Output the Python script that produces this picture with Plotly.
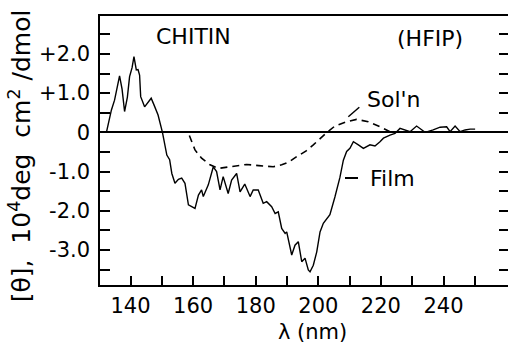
import plotly.graph_objects as go

# Film (solid) CD spectrum
film_x = [132.3, 133.9, 134.9, 136.5, 137.3, 138.1, 139.0, 139.7, 140.5, 141.1, 141.85, 142.4, 142.9,
          143.25, 144.5, 145.5, 146.6, 147.5, 148.8, 150.2, 151.6, 152.5, 153.2, 154.2, 155.3, 156.35,
          157.4, 158.5, 159.5, 160.6, 161.7, 162.7, 163.25, 164.85, 166.45, 167.5, 168.6, 169.6, 171.2,
          172.3, 173.9, 175.0, 176.5, 178.2, 179.2, 180.8, 182.4, 183.5, 185.1, 186.2, 187.2, 188.3,
          189.4, 189.9, 191.5, 192.55, 193.6, 194.7, 195.75, 196.8, 197.35, 198.4, 199.5, 200.55,
          201.6, 203.7, 205.3, 206.9, 208.0, 209.05, 210.1, 211.2, 212.8, 214.4, 216.5, 218.1, 219.7,
          220.8, 222.9, 224.5, 226.1, 227.7, 229.3, 231.4, 233.0, 234.1, 236.7, 238.9, 241.0, 242.1,
          243.7, 245.3, 246.9, 248.5, 250.1]
film_y = [0.0, 0.57, 0.82, 1.44, 1.1, 0.53, 0.9, 1.42, 1.65, 1.93, 1.59, 1.6, 1.46,
          0.91, 0.65, 0.75, 0.87, 0.7, 0.44, 0.0, -0.58, -0.7, -1.05, -1.3, -1.2, -1.17,
          -1.3, -1.85, -1.9, -1.94, -1.6, -1.47, -1.64, -1.34, -0.88, -1.0, -1.47, -1.13, -1.56,
          -1.22, -1.05, -1.52, -1.32, -1.64, -1.47, -1.47, -1.81, -1.77, -1.9, -2.07, -2.03, -2.45,
          -2.58, -2.54, -3.13, -2.88, -2.79, -3.30, -3.21, -3.51, -3.56, -3.39, -3.05, -2.54,
          -2.32, -2.1, -1.65, -1.15, -0.71, -0.49, -0.41, -0.24, -0.32, -0.41, -0.32, -0.35, -0.24,
          -0.15, -0.07, -0.03, 0.10, 0.06, 0.015, 0.16, 0.06, 0.0, 0.06, 0.13, 0.14, 0.015,
          0.16, 0.015, 0.06, 0.08, 0.08]

# Solution (dashed) CD spectrum
soln_x = [158.8, 160.6, 162.7, 165.4, 168.05, 171.8, 177.1, 181.0, 185.6, 188.3, 190.5, 193.1,
          196.0, 198.4, 201.0, 202.5, 205.3, 209.05, 212.2, 215.95, 219.7, 222.9]
soln_y = [-0.08, -0.45, -0.66, -0.83, -0.92, -0.88, -0.82, -0.85, -0.88, -0.83, -0.76, -0.62,
          -0.48, -0.32, -0.12, -0.02, 0.16, 0.27, 0.33, 0.27, 0.14, 0.015]

x_major = [140, 160, 180, 200, 220, 240]
x_major_text = ["140", "160", "180", "200", "220", "240"]
x_minor = [150, 170, 190, 210, 230, 250]
y_major = [-3.0, -2.0, -1.0, 0, 1.0, 2.0]
y_major_text = ["-3.0", "-2.0", "-1.0", "0", "+1.0", "+2.0"]
y_minor = [-3.5, -2.5, -1.5, -0.5, 0.5, 1.5, 2.5]
y_all = [-3.5, -3.0, -2.5, -2.0, -1.5, -1.0, -0.5, 0, 0.5, 1.0, 1.5, 2.0, 2.5]

FONT = "DejaVu Sans"
X_RANGE = [130.25, 260.6]
Y_RANGE = [-3.895, 2.967]

fig = go.Figure()
fig.add_trace(go.Scatter(x=film_x, y=film_y, mode="lines",
                         line=dict(color="black", width=1.4), showlegend=False))
fig.add_trace(go.Scatter(x=soln_x, y=soln_y, mode="lines",
                         line=dict(color="black", width=1.6, dash="7px,5px"), showlegend=False))
# invisible trace to activate right axis
fig.add_trace(go.Scatter(x=[None], y=[None], yaxis="y2", showlegend=False))

fig.update_layout(
    width=509, height=352,
    margin=dict(l=100, r=1, t=16, b=67),
    paper_bgcolor="white", plot_bgcolor="white",
    font=dict(family=FONT, color="black", size=20),
    xaxis=dict(range=X_RANGE, tickvals=x_major, ticktext=x_major_text,
               ticks="inside", ticklen=9, tickwidth=1.5, tickcolor="black",
               minor=dict(tickvals=x_minor, ticks="inside", ticklen=9, tickwidth=1.5,
                          tickcolor="black", showgrid=False),
               showline=True, linecolor="black", linewidth=1.5, mirror=True,
               showgrid=False, zeroline=False, ticklabelstandoff=1,
               tickfont=dict(family=FONT, size=21)),
    yaxis=dict(range=Y_RANGE, tickvals=y_major, ticktext=y_major_text,
               ticks="inside", ticklen=10, tickwidth=1.5, tickcolor="black",
               minor=dict(tickvals=y_minor, ticks="inside", ticklen=10, tickwidth=1.5,
                          tickcolor="black", showgrid=False),
               showline=True, linecolor="black", linewidth=1.5, mirror=False,
               showgrid=False, zeroline=True, zerolinecolor="black", zerolinewidth=2,
               ticklabelstandoff=4, tickfont=dict(family=FONT, size=21)),
    yaxis2=dict(range=Y_RANGE, tickvals=y_all, overlaying="y", side="right",
                ticks="inside", ticklen=9, tickwidth=1.5, tickcolor="black",
                showticklabels=False, showline=False, showgrid=False, zeroline=False),
)

ann = dict(xref="paper", yref="paper", showarrow=False, font=dict(family=FONT, size=22, color="black"))
fig.add_annotation(text="CHITIN", x=0.228, y=0.922, xanchor="center", yanchor="middle", **ann)
fig.add_annotation(text="(HFIP)", x=0.809, y=0.918, xanchor="center", yanchor="middle", **ann)
fig.add_annotation(text="Sol'n", x=0.72, y=0.691, xanchor="center", yanchor="middle", **ann)
fig.add_annotation(text="Film", x=0.718, y=0.397, xanchor="center", yanchor="middle", **ann)
fig.add_annotation(text="λ (nm)", x=0.522, y=-0.175, xanchor="center", yanchor="middle",
                   xref="paper", yref="paper", showarrow=False,
                   font=dict(family=FONT, size=21, color="black"))
fig.add_annotation(text="[θ],\u00a0 10<sup>4</sup>deg\u00a0 cm<sup>2</sup> /dmol", x=-0.195, y=0.48,
                   xanchor="center", yanchor="middle", textangle=-90,
                   xref="paper", yref="paper", showarrow=False,
                   font=dict(family=FONT, size=25, color="black"))

# leader marks for labels
fig.add_shape(type="line", xref="paper", yref="paper",
              x0=(348.3 - 100) / 408, y0=(285 - 116.7) / 269,
              x1=(359.3 - 100) / 408, y1=(285 - 107.3) / 269,
              line=dict(color="black", width=1.5))
fig.add_shape(type="line", xref="paper", yref="paper",
              x0=(345 - 100) / 408, y0=(285 - 178) / 269,
              x1=(358 - 100) / 408, y1=(285 - 178) / 269,
              line=dict(color="black", width=2))

fig.write_html("out.html")
